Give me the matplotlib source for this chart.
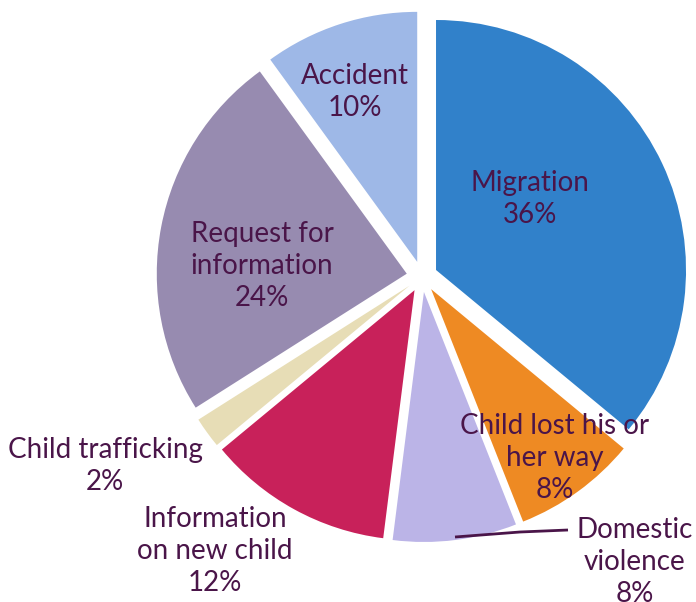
import matplotlib
matplotlib.use("Agg")
import matplotlib.pyplot as plt

categories = ["Migration", "Child lost his or\nher way", "Domestic\nviolence",
              "Information\non new child", "Child trafficking", "Request for\ninformation", "Accident"]
values = [36, 8, 8, 12, 2, 24, 10]
colors = ["#3181CA", "#EE8A23", "#BBB4E7", "#C8215A", "#E7DDB6", "#978BB0", "#9EB8E7"]
# label anchor (pixel) positions
label_pos = [(530, 199), (555, 458), (635, 562), (215, 551), (105, 466), (262, 266), (355, 92)]

W, H = 696, 602
fig = plt.figure(figsize=(W / 100, H / 100), dpi=100)
ax = fig.add_axes([0, 0, 1, 1])
ax.set_xlim(0, W)
ax.set_ylim(0, H)
ax.set_aspect("equal")
ax.axis("off")

cx, cy, R = 422, H - 276.6, 250
ax.pie(values, colors=colors, startangle=90, counterclock=False,
       center=(cx, cy), radius=R, explode=[15.5] * len(values),
       wedgeprops=dict(linewidth=0), frame=True)
ax.set_xlim(0, W)
ax.set_ylim(0, H)
ax.axis("off")

txt_color = "#4A1549"
for cat, v, (px, py) in zip(categories, values, label_pos):
    ax.text(px, H - py, f"{cat}\n{v}%", ha="center", va="center",
            fontsize=20, color=txt_color, family="Lato", linespacing=1.27)

# leader line for Domestic violence
ax.plot([455, 520, 568], [H - 537, H - 532, H - 530], color=txt_color, lw=2,
        solid_capstyle="butt")

fig.savefig("out.png", dpi=100)
